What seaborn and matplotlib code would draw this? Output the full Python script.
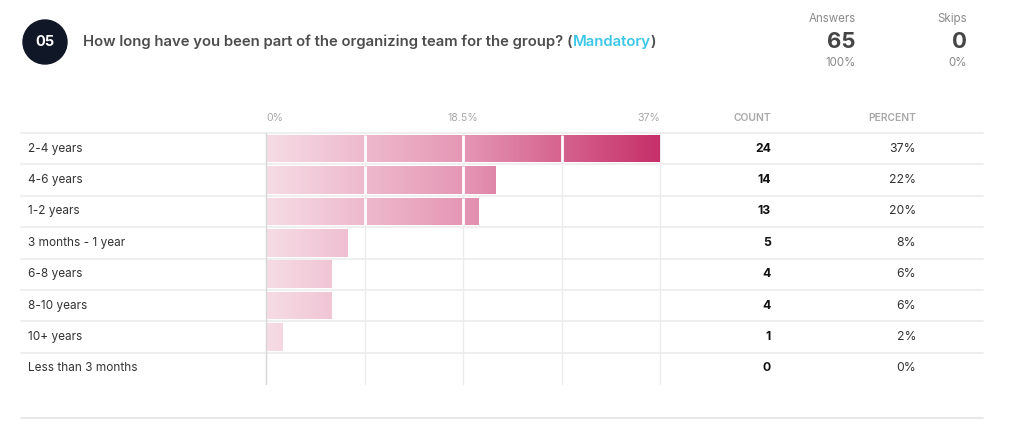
import numpy as np
import pandas as pd
import seaborn as sns
import matplotlib.pyplot as plt
from matplotlib.colors import LinearSegmentedColormap
from matplotlib.patches import Ellipse
from matplotlib.lines import Line2D
from matplotlib import transforms

# survey question data
categories = ["2-4 years", "4-6 years", "1-2 years", "3 months - 1 year",
              "6-8 years", "8-10 years", "10+ years", "Less than 3 months"]
counts = [24, 14, 13, 5, 4, 4, 1, 0]
answers = 65
skips = 0
axis_max = 37
axis_labels = ["0%", "18.5%", "37%"]

df = pd.DataFrame({"answer": categories, "count": counts})
df["percent"] = df["count"] / answers * 100

sns.set_theme(style="white")
plt.rcParams["font.family"] = ["Inter", "DejaVu Sans"]

W, H = 1024, 429
fig = plt.figure(figsize=(W / 100, H / 100), dpi=100)


def fx(px):
    return px / W


def fy(py):
    return 1 - py / H


ax = fig.add_axes([fx(266), fy(384), fx(660) - fx(266), fy(133) - fy(384)])
sns.barplot(data=df, x="percent", y="answer", orient="h", ax=ax,
            color="#e8a0bb", width=0.88)
ax.patch.set_visible(False)
ax.set_xlabel("")
ax.set_ylabel("")
ax.set_xticks([])
ax.set_yticks([])
for s in ax.spines.values():
    s.set_visible(False)

# gridlines at quarters of the axis
grid = np.linspace(0, axis_max, 5)
for g in grid[1:]:
    ax.axvline(g, color="#ececec", lw=1, zorder=0, clip_on=False)
ax.axvline(0, color="#d6d6d6", lw=1, zorder=3, clip_on=False)

# pink gradient that runs along the whole axis, clipped to each bar
cmap = LinearSegmentedColormap.from_list("pink", ["#f6dce5", "#e597b4", "#c62f69"])
grad = np.linspace(0, 1, 256).reshape(1, -1)
for patch in ax.patches:
    if patch.get_width() <= 0:
        continue
    patch.set_facecolor("none")
    patch.set_edgecolor("none")
    im = ax.imshow(grad, cmap=cmap, aspect="auto",
                   extent=[0, axis_max, len(categories) - 0.5, -0.5], zorder=1)
    im.set_clip_path(patch)
    y0, h = patch.get_y(), patch.get_height()
    for g in grid[1:-1]:
        if g < patch.get_width():
            ax.vlines(g, y0, y0 + h, color="white", lw=2, zorder=2)
ax.set_xlim(0, axis_max)
ax.set_ylim(len(categories) - 0.5, -0.5)

# axis labels on top
top = transforms.blended_transform_factory(ax.transData, fig.transFigure)
for lab, x, ha in zip(axis_labels, [0, axis_max / 2, axis_max], ["left", "center", "right"]):
    ax.text(x, fy(118), lab, transform=top, ha=ha, va="center",
            fontsize=7.6, color="#a8a8a8")

# row texts and separators
rows = transforms.blended_transform_factory(fig.transFigure, ax.transData)
for i, row in df.iterrows():
    fig.text(fx(28), i, row["answer"], transform=rows, ha="left", va="center",
             fontsize=8.5, color="#333333")
    fig.text(fx(771), i, f"{row['count']}", transform=rows, ha="right", va="center",
             fontsize=8.8, color="#111111", fontweight="bold")
    fig.text(fx(916), i, f"{row['percent']:.0f}%", transform=rows, ha="right",
             va="center", fontsize=8.8, color="#333333")
for i in range(len(categories)):
    fig.add_artist(Line2D([fx(21), fx(983)], [i - 0.5, i - 0.5], transform=rows,
                          color="#ececec", lw=1.2, zorder=0))
fig.add_artist(Line2D([fx(21), fx(983)], [fy(418), fy(418)], color="#e4e4e4", lw=1.2))

fig.text(fx(771), fy(118), "COUNT", ha="right", va="center", fontsize=7.4,
         color="#a8a8a8", fontweight="semibold")
fig.text(fx(916), fy(118), "PERCENT", ha="right", va="center", fontsize=7.4,
         color="#a8a8a8", fontweight="semibold")

# question header
fig.add_artist(Ellipse((fx(45), fy(42)), fx(44), 44 / H, color="#101726"))
fig.text(fx(45), fy(42), "05", ha="center", va="center", fontsize=10.5,
         color="white", fontweight="bold")
t1 = fig.text(fx(83), fy(42), "How long have you been part of the organizing team for the group? (",
              ha="left", va="center", fontsize=10.7, color="#4d4d4d", fontweight="semibold")
t2 = plt.annotate("Mandatory", xy=(1, 0), xycoords=t1, ha="left", va="bottom",
                  fontsize=10.7, color="#3cc6e8", fontweight="semibold",
                  annotation_clip=False)
plt.annotate(")", xy=(1, 0), xycoords=t2, ha="left", va="bottom",
             fontsize=10.7, color="#4d4d4d", fontweight="semibold", annotation_clip=False)

# answers / skips summary
for x, lab, val, pct in [(856, "Answers", answers, "100%"), (967, "Skips", skips, "0%")]:
    fig.text(fx(x), fy(19), lab, ha="right", va="center", fontsize=8.3, color="#8a8a8a")
    fig.text(fx(x), fy(42), f"{val}", ha="right", va="center", fontsize=16,
             color="#454545", fontweight="bold")
    fig.text(fx(x), fy(63), pct, ha="right", va="center", fontsize=8.3, color="#8a8a8a")

fig.savefig("out.png", dpi=100, facecolor="white")
